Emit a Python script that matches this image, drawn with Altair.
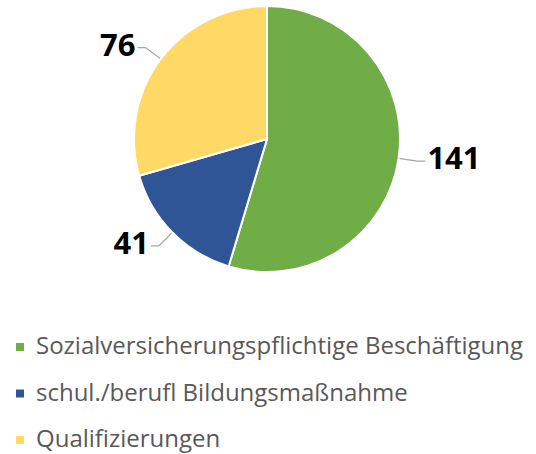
import altair as alt
import pandas as pd
import numpy as np

categories = ["Sozialversicherungspflichtige Beschäftigung", "schul./berufl Bildungsmaßnahme", "Qualifizierungen"]
values = [141, 41, 76]
colors = ["#70AD47", "#2F5597", "#FFD966"]

df = pd.DataFrame({"cat": categories, "val": values, "idx": list(range(len(values)))})

CX, CY, R = 267, 139, 133

# leader lines and label anchors derived from the data angles
tot = sum(values)
cum = np.cumsum([0] + values[:-1])
mid = (cum + np.array(values) / 2) / tot * 2 * np.pi
side = np.sign(np.sin(mid))
ex = CX + (R + 19) * np.sin(mid)
ey = CY - (R + 19) * np.cos(mid)
rows = []
for i, c in enumerate(categories):
    rows.append({"cat": c, "k": 0, "x": CX + R * np.sin(mid[i]), "y": CY - R * np.cos(mid[i])})
    rows.append({"cat": c, "k": 1, "x": ex[i], "y": ey[i]})
    rows.append({"cat": c, "k": 2, "x": ex[i] + side[i] * 8, "y": ey[i]})
lines = pd.DataFrame(rows)
lab = pd.DataFrame({"val": values, "x": ex + side * 10, "y": ey - 1, "side": side})

pxx = alt.Scale(domain=[0, 536], range=[0, 536])
pxy = alt.Scale(domain=[0, 454], range=[0, 454])

color = alt.Color("cat:N", scale=alt.Scale(domain=categories, range=colors),
                  sort=categories,
                  legend=alt.Legend(title=None, orient="none", legendX=8, legendY=335, padding=0,
                                    symbolType="square", symbolSize=64, symbolStrokeWidth=0,
                                    labelFontSize=24, labelFont="Open Sans", labelColor="#595959",
                                    rowPadding=22.5, labelOffset=4, labelLimit=600))

pie = alt.Chart(df).mark_arc(radius=R, stroke="white", strokeWidth=2).encode(
    theta=alt.Theta("val:Q", stack=True),
    order=alt.Order("idx:Q"),
    color=color, x=alt.value(CX), y=alt.value(CY))

leaders = alt.Chart(lines).mark_line(color="#A6A6A6", strokeWidth=1.2).encode(
    x=alt.X("x:Q", scale=pxx, axis=None), y=alt.Y("y:Q", scale=pxy, axis=None),
    detail="cat:N", order="k:Q")

txt_kw = dict(font="Open Sans", fontSize=31, fontWeight="bold", color="black", baseline="middle")
lab_r = alt.Chart(lab).transform_filter("datum.side > 0").mark_text(align="left", **txt_kw).encode(
    x=alt.X("x:Q", scale=pxx, axis=None), y=alt.Y("y:Q", scale=pxy, axis=None), text="val:Q")
lab_l = alt.Chart(lab).transform_filter("datum.side < 0").mark_text(align="right", **txt_kw).encode(
    x=alt.X("x:Q", scale=pxx, axis=None), y=alt.Y("y:Q", scale=pxy, axis=None), text="val:Q")

chart = alt.layer(leaders, pie, lab_r, lab_l).properties(
    width=536, height=454, padding=0, autosize=alt.AutoSizeParams(type="none")
).configure_view(stroke=None)

chart.save("out.html", embed_options={"renderer": "svg", "actions": False})
